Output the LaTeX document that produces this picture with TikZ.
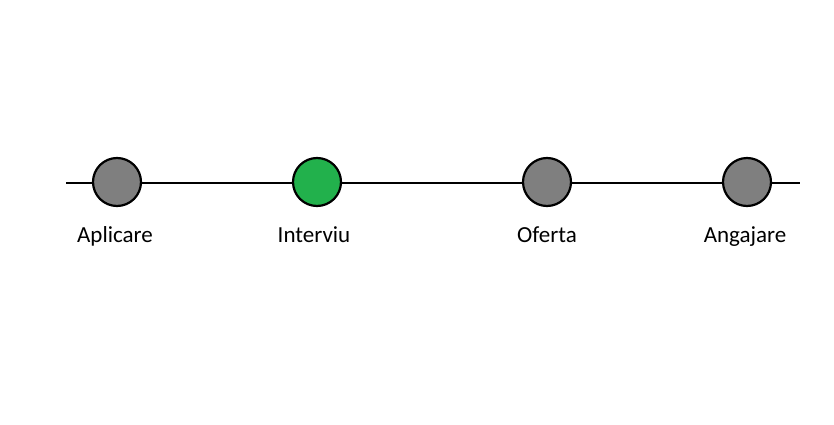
\documentclass[tikz,border=0pt]{standalone}
\usepackage{fontspec}
\setmainfont{Carlito}
\usetikzlibrary{positioning}
\definecolor{stepgrey}{RGB}{127,127,127}
\definecolor{stepgreen}{RGB}{34,177,76}

\begin{document}
\begin{tikzpicture}[x=1pt, y=1pt]
\tikzstyle{dot} = [circle, draw, line width=2.2pt, fill=stepgrey, minimum size=48pt, inner sep=0pt]
\tikzstyle{line} = [draw, line width=2.6pt]
\tikzstyle{caption} = [font=\fontsize{23pt}{26pt}\selectfont, text=black, anchor=base, inner sep=0pt]
    \useasboundingbox (0,0) rectangle (834,424);
    % Place nodes
    \coordinate (start) at (66,241);
    \coordinate (end) at (800,241);
    \path [line] (start) -- (end);
    \node [dot] (aplicare) at (117,242) {};
    \node [dot, fill=stepgreen] (interviu) at (317,242) {};
    \node [dot] (oferta) at (547,242) {};
    \node [dot] (angajare) at (747,242) {};

%labels
    \node [caption] at ([xshift=-2pt, yshift=-60pt]aplicare.center) {Aplicare};
    \node [caption] at ([xshift=-3pt, yshift=-60pt]interviu.center) {Interviu};
    \node [caption] at ([yshift=-60pt]oferta.center) {Oferta};
    \node [caption] at ([xshift=-2pt, yshift=-60pt]angajare.center) {Angajare};

\end{tikzpicture}
\end{document}
